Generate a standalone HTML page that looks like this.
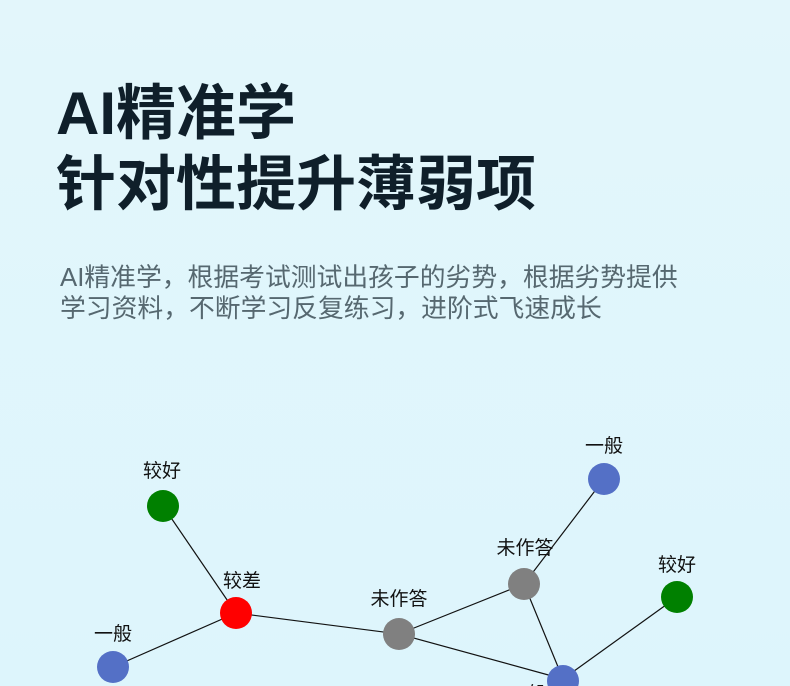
<!DOCTYPE html>
<html><head><meta charset="utf-8"><style>
html,body{margin:0;padding:0}
body{width:790px;height:686px;overflow:hidden;background:linear-gradient(180deg,#e3f6fb 0%,#ddf5fc 100%);font-family:"Liberation Sans","Noto Sans CJK SC",sans-serif;position:relative}
.t{position:absolute;left:56px;color:#0f1f2a;font-weight:bold;font-size:60px;line-height:70px;white-space:nowrap}
.s{position:absolute;left:60px;top:263px;color:#566870;font-size:25.8px;line-height:31px;white-space:nowrap}
svg{position:absolute;left:0;top:0}
</style></head><body>
<div class="t" style="top:79px">AI精准学</div>
<div class="t" style="top:150px">针对性提升薄弱项</div>
<div class="s">AI精准学，根据考试测试出孩子的劣势，根据劣势提供<br>学习资料，不断学习反复练习，进阶式飞速成长</div>
<svg width="790" height="686" font-family="Liberation Sans, Noto Sans CJK SC, sans-serif" font-size="19" text-anchor="middle" fill="#111">
<g stroke="#111" stroke-width="1.2">
<line x1="163" y1="506" x2="236" y2="613"/>
<line x1="236" y1="613" x2="113" y2="667"/>
<line x1="236" y1="613" x2="399" y2="634"/>
<line x1="399" y1="634" x2="524" y2="584"/>
<line x1="399" y1="634" x2="563" y2="679"/>
<line x1="524" y1="584" x2="604" y2="479"/>
<line x1="524" y1="584" x2="563" y2="679"/>
<line x1="563" y1="679" x2="677" y2="597"/>
</g>
<circle cx="163" cy="506" r="16" fill="#008000"/>
<circle cx="236" cy="613" r="16" fill="#ff0000"/>
<circle cx="113" cy="667" r="16" fill="#5470c6"/>
<circle cx="399" cy="634" r="16" fill="#808080"/>
<circle cx="524" cy="584" r="16" fill="#808080"/>
<circle cx="604" cy="479" r="16" fill="#5470c6"/>
<circle cx="677" cy="597" r="16" fill="#008000"/>
<circle cx="563" cy="681" r="16" fill="#5470c6"/>
<text x="162" y="477">较好</text>
<text x="242" y="587">较差</text>
<text x="113" y="640">一般</text>
<text x="399" y="605">未作答</text>
<text x="525" y="554">未作答</text>
<text x="604" y="452">一般</text>
<text x="677" y="571">较好</text>
<text x="527" y="700">一般</text>
</svg>
</body></html>
